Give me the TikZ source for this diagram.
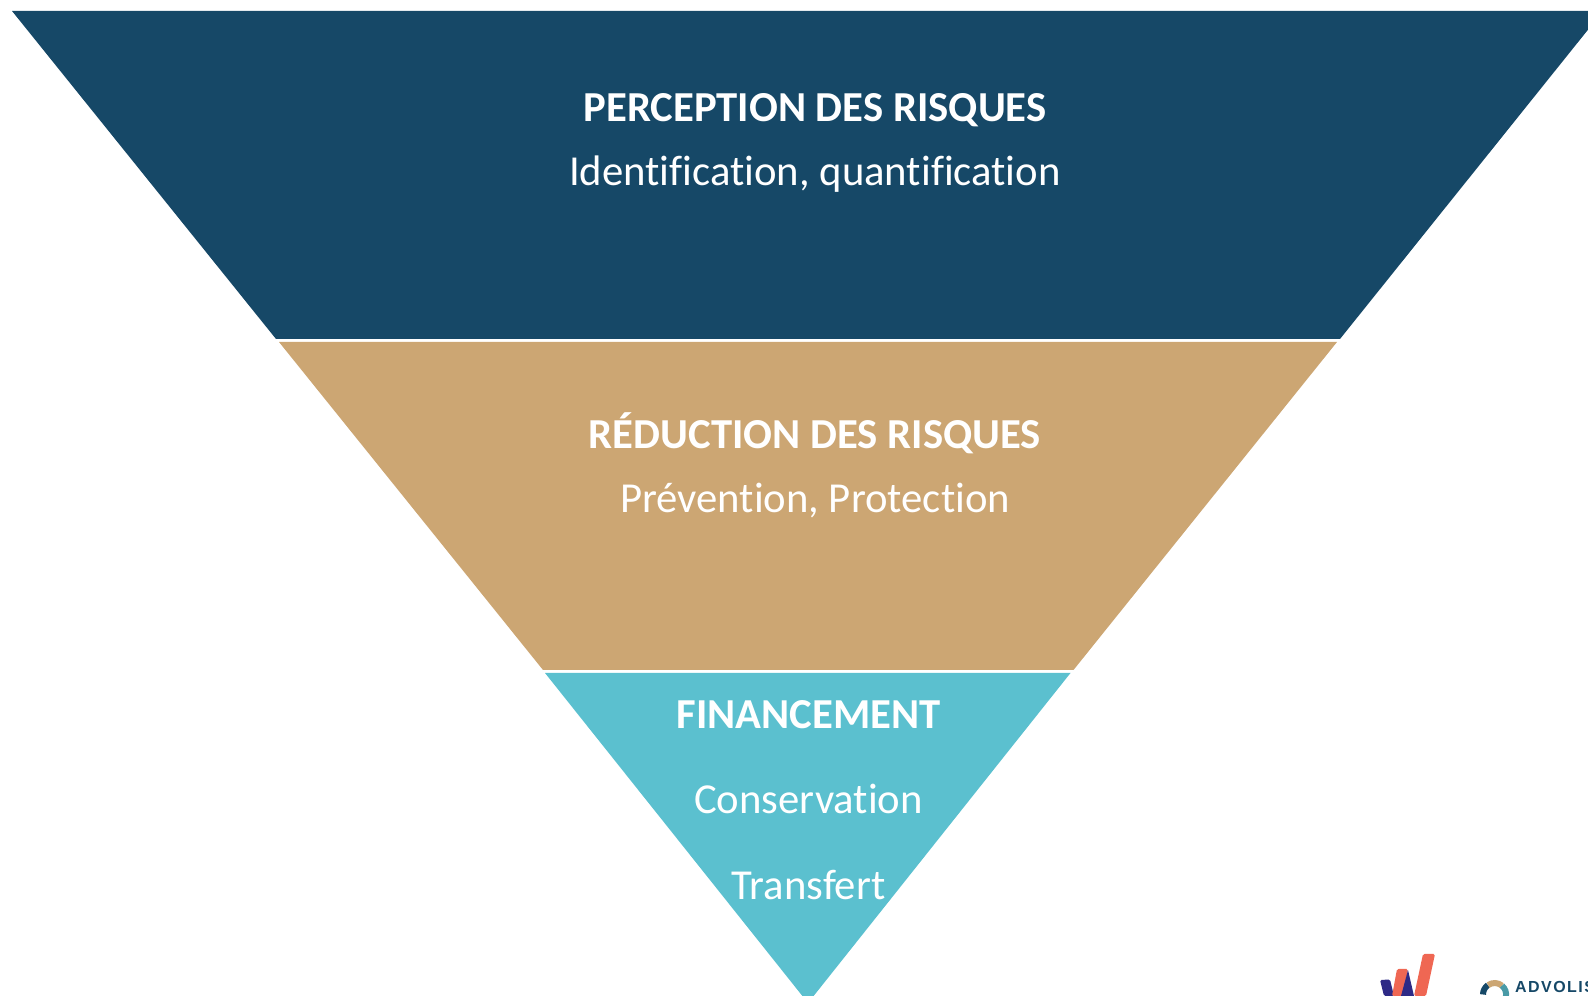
\documentclass[tikz,border=0pt]{standalone}
\usepackage{fontspec}
\setmainfont[Ligatures=NoCommon]{Carlito}
\newfontfamily\logofont[LetterSpace=9]{Liberation Sans}
\definecolor{bandnavy}{HTML}{164867}
\definecolor{bandsand}{HTML}{CCA673}
\definecolor{bandteal}{HTML}{5BC0CF}
\definecolor{logocoral}{HTML}{EF6753}
\definecolor{logoblue}{HTML}{2E2A86}
\tikzset{
  bandtitle/.style={text=white,font=\fontsize{42.7}{42.7}\selectfont\bfseries,anchor=base,inner sep=0pt},
  bandtext/.style={text=white,font=\fontsize{42.7}{42.7}\selectfont,anchor=base,inner sep=0pt},
  logoring/.style={line width=6pt}
}
\begin{document}
\begin{tikzpicture}[x=1pt,y=1pt]
\useasboundingbox (0,0) rectangle (1588,996);
\clip (0,0) rectangle (1588,996);
% Drawing bands
\fill[bandnavy] (12,985) -- (1603,985) -- (1340,657) -- (276,657) -- cycle;
\fill[bandsand] (279,654) -- (1337,654) -- (1073.5,326) -- (543,326) -- cycle;
\fill[bandteal] (545,323) -- (1070.5,323) -- (812,-2) -- (804,-2) -- cycle;
% Done with bands; drawing labels
\node[bandtitle] (perception) at (815,874.7) {PERCEPTION DES RISQUES};
\node[bandtext] (identification) at (815,810.7) {Identification, quantification};
\node[bandtitle] (reduction) at (815,547.7) {RÉDUCTION DES RISQUES};
\node[bandtext] (prevention) at (815,483.7) {Prévention, Protection};
\node[bandtitle] (financement) at (808.5,267.7) {FINANCEMENT};
\node[bandtext] (conservation) at (808.5,182.7) {Conservation};
\node[bandtext] (transfert) at (808.5,96.7) {Transfert};
% Done with labels; drawing logos
\fill[logoblue,rounded corners=1.5pt] (1380,16) -- (1390,16.5) -- (1394,0) -- (1384,0) -- cycle;
\fill[logocoral,rounded corners=1.5pt] (1397,27) -- (1408,27) -- (1403,0) -- (1392,0) -- cycle;
\fill[logoblue] (1408,26) -- (1401,0) -- (1414,0) -- cycle;
\fill[logocoral,rounded corners=1.5pt] (1423,42) -- (1435,42) -- (1426,0) -- (1414,0) -- cycle;
\draw[logoring,color=bandnavy] (1483,1.5) arc (180:125:11.5);
\draw[logoring,color=bandsand] (1488.1,10.9) arc (125:50:11.5);
\draw[logoring,color=bandteal!80!black] (1502,10.3) arc (50:-10:11.5);
\node[text=bandnavy,font=\logofont\fontsize{16}{16}\selectfont\bfseries,anchor=base west,inner sep=0pt] (advolis) at (1515,3) {ADVOLIS};
% Done with logos
\end{tikzpicture}
\end{document}
